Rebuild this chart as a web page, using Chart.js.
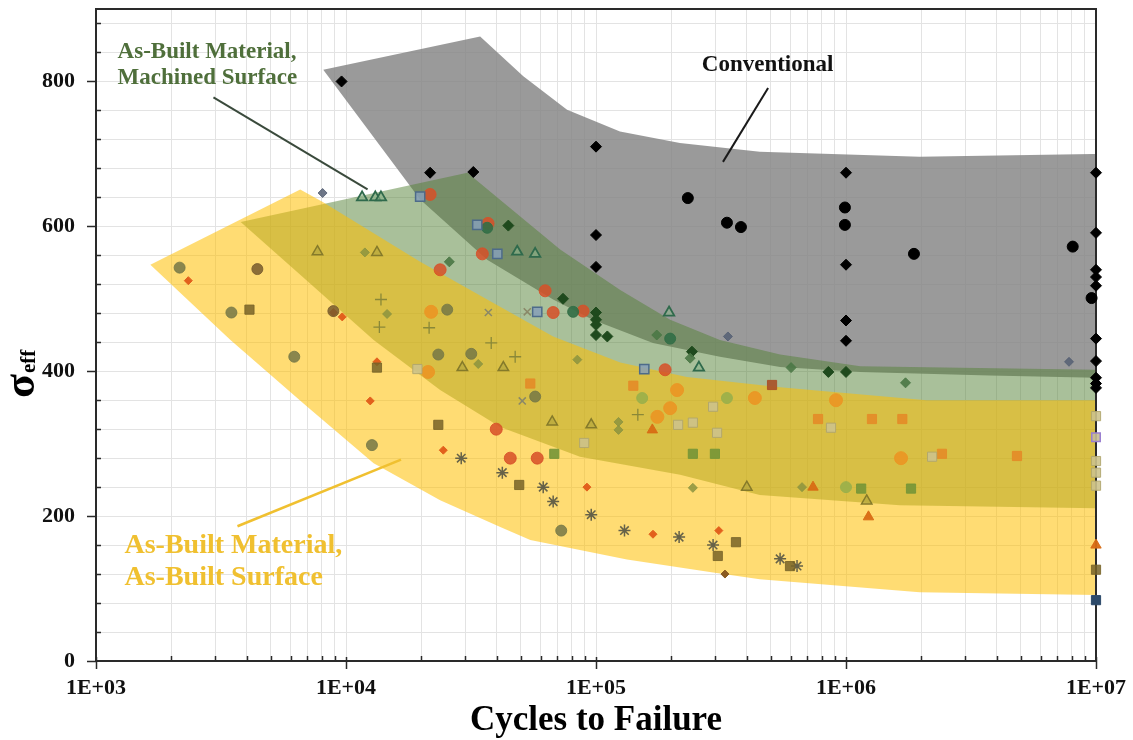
<!DOCTYPE html>
<html>
<head>
<meta charset="utf-8">
<script src="https://cdn.jsdelivr.net/npm/chart.js@4.4.1/dist/chart.umd.min.js"></script>
<style>
  html, body { margin: 0; padding: 0; background: #fff; }
  #wrap { width: 1133px; height: 740px; }
</style>
</head>
<body>
<div id="wrap"><canvas id="sn" width="1133" height="740"></canvas></div>
<script>
// ---- axes ----
const xTickValues = [];
for (let e = 3; e < 7; e++) for (let m = 1; m < 10; m++) xTickValues.push(m * Math.pow(10, e));
xTickValues.push(1e7);
const yTickValues = [];
for (let v = 0; v <= 880; v += 40) yTickValues.push(v);

// ---- scatter bands (polygon outlines, [cycles, stress]) ----
const grayBand = [[8110,816],[34400,862],[51200,807],[76600,761],[124700,731],[216600,715],[452000,703],[1970000,696],[9700000,700],[10000000,700],
  [10000000,391],[3760000,394],[1140000,399],[545000,406],[313000,420],[169000,439],[97000,471],[67400,499],[36700,554],[19800,637]];
const greenBand = [[3790,606],[30600,674],[42600,633],[71900,568],[125000,512],[198000,471],[313000,443],[545000,423],[1140000,407],[10000000,402],
  [10000000,211],[1640000,215],[452000,229],[217000,257],[86300,282],[41400,323],[23800,374],[12900,443],[6560,533]];
const yellowBand = [[1650,547],[6560,651],[8040,634],[19800,551],[36700,499],[67400,448],[125000,412],[231000,392],[545000,378],[2100000,360],[10000000,360],
  [10000000,91],[1970000,95],[452000,113],[294000,122],[133000,140],[54600,167],[41400,185],[23800,222],[12900,273],[7000,351],[3450,443]];

// ---- data points ----
const convDiamonds = [[9600,800],[21700,674],[32300,675],[100000,710],[100000,588],[100000,544],[1000000,674],[1000000,547],[1000000,470],[1000000,442],
  [10000000,674],[10000000,591],[10000000,540],[10000000,530],[10000000,518],[10000000,445],[10000000,414],[10000000,391],[10000000,383],[10000000,377]];
const convCircles = [[233000,639],[334000,605],[380000,599],[990000,626],[990000,602],[1870000,562],[8070000,572],[9600000,501]];
const machDiamonds = [[44600,601],[73800,500],[100000,481],[100000,471],[100000,464],[100000,450],[111000,448],[242000,427],[1000000,399],[850000,399]];
const midGreenDiamonds = [[175000,450],[603000,405],[1730000,384],[238000,418],[25900,551]];
const grayDiamonds = [[7800000,413],[337000,448],[8060,646]];
const greenCircles = [[36700,598],[81000,482],[198000,445]];
const blueSquares = [[19800,641],[33500,602],[40300,562],[58200,482],[156000,403]];
const purpleSquares = [[10000000,309]];
const navySquares = [[10000000,84]];
const machTriangles = [[11600,640],[13100,640],[13800,640],[48400,565],[57100,562],[258000,405],[196000,481]];
const redCircles = [[21700,644],[37000,604],[35100,562],[23800,540],[62600,511],[67400,481],[88800,483],[189000,402],[39900,320],[45400,280],[58200,280]];
const redSquares = [[506000,381]];
const orangeCircles = [[21900,482],[21300,399],[211000,374],[198000,349],[176000,337],[432000,363],[912000,360],[1660000,280]];
const orangeDiamonds = [[2340,525],[8900,481],[9660,475],[12500,359],[13300,413],[24500,291],[92000,240],[169000,175],[310000,180]];
const brownDiamonds = [[328000,120]];
const oliveCircles = [[2160,543],[3480,481],[6210,420],[12700,298],[72600,180],[25400,485],[23400,423],[31700,424],[57100,365]];
const brownCircles = [[4420,541],[8900,483]];
const lightGreenCircles = [[153000,363],[334000,363],[1000000,240]];
const oliveTriangles = [[7690,565],[13300,564],[29200,405],[42600,405],[66800,330],[95700,326],[1210000,221],[401000,240]];
const orangeTriangles = [[168000,319],[738000,240],[1230000,199],[10000000,160]];
const orangeSquares = [[54600,383],[141000,380],[773000,334],[1270000,334],[1680000,334],[2420000,286],[4830000,283]];
const tanSquares = [[19300,403],[294000,351],[213000,326],[244000,329],[305000,315],[89700,301],[871000,322],[2210000,282],
  [10000000,338],[10000000,276],[10000000,260],[10000000,242]];
const brownSquares = [[4110,485],[13300,405],[23400,326],[49300,243],[307000,145],[363000,164],[597000,131],[10000000,126]];
const greenSquares = [[68100,286],[244000,286],[299000,286],[1150000,238],[1820000,238]];
const plusMarks = [[13800,499],[13600,461],[21500,460],[38100,439],[47500,420],[147000,340]];
const starMarks = [[28900,280],[42200,260],[61500,240],[67400,220],[95700,202],[130000,180],[215000,171],[294000,160],[545000,141],[637000,131]];
const xMarks = [[37100,481],[53100,482],[50700,359]];
const oliveDiamonds = [[11900,564],[14600,479],[33800,410],[84200,416],[123000,330],[123000,319],[244000,239],[667000,240]];

// ---- annotations ----
const conventionalText = { x: 265000, y: 823, lines: ['Conventional'] };
const conventionalLine = [[488000, 791], [322000, 689]];
const machinedText = { x: 1220, y: 841, lines: ['As-Built Material,', 'Machined Surface'] };
const machinedLine = [[2950, 778], [12200, 651]];
const asBuiltText = { x: 1300, y: 159, lines: ['As-Built Material,', 'As-Built Surface'] };
const asBuiltLine = [[3680, 186], [16600, 278]];

const SERIF = '"Liberation Serif", "Times New Roman", serif';
const toXY = arr => arr.map(p => ({ x: p[0], y: p[1] }));

function band(data, color, order) {
  return { type: 'line', data: toXY(data), fill: 'shape', backgroundColor: color, borderColor: 'transparent',
    borderWidth: 0, pointRadius: 0, tension: 0, order: order };
}
function pts(data, style, radius, bg, border, bw) {
  return { type: 'scatter', data: toXY(data), pointStyle: style, pointRadius: radius, backgroundColor: bg,
    borderColor: border || bg, borderWidth: bw == null ? 1 : bw, clip: false, order: 0 };
}

const datasets = [
  band(grayBand, 'rgba(132,132,132,0.82)', 3),
  band(greenBand, 'rgba(84,130,53,0.5)', 2),
  band(yellowBand, 'rgba(255,192,0,0.55)', 1),
  pts(tanSquares, 'rect', 6.5, 'rgba(205,195,140,0.9)', 'rgba(175,165,110,0.9)'),
  pts(orangeSquares, 'rect', 6.5, 'rgba(228,140,40,0.9)'),
  pts(brownSquares, 'rect', 6.5, 'rgba(120,100,40,0.85)'),
  pts(greenSquares, 'rect', 6.5, 'rgba(118,150,55,0.9)'),
  pts(blueSquares, 'rect', 6.5, 'rgba(135,160,185,0.85)', '#4d6b8a', 1.5),
  pts(purpleSquares, 'rect', 6, 'rgba(200,190,150,0.9)', '#9a7fd0', 1.5),
  pts(navySquares, 'rect', 6.5, '#2d4a6a'),
  pts(redSquares, 'rect', 6.5, 'rgba(170,80,40,0.9)'),
  pts(oliveCircles, 'circle', 5.5, 'rgba(118,120,70,0.85)'),
  pts(brownCircles, 'circle', 5.5, 'rgba(120,92,45,0.85)'),
  pts(lightGreenCircles, 'circle', 5.5, 'rgba(150,175,75,0.85)'),
  pts(greenCircles, 'circle', 5.5, 'rgba(50,110,70,0.9)'),
  pts(redCircles, 'circle', 6, 'rgba(215,80,40,0.85)'),
  pts(orangeCircles, 'circle', 6.5, 'rgba(235,150,35,0.9)'),
  pts(oliveTriangles, 'triangle', 6, 'rgba(170,160,60,0.55)', '#857a2a', 1.5),
  pts(orangeTriangles, 'triangle', 6, 'rgba(216,108,20,0.95)'),
  pts(machTriangles, 'triangle', 6, 'rgba(140,180,140,0.6)', '#2f6a4c', 1.8),
  pts(plusMarks, 'cross', 6, 'transparent', '#8a8838', 1.3),
  pts(starMarks, 'star', 6, 'transparent', '#666248', 1.5),
  pts(xMarks, 'crossRot', 5, 'transparent', '#8a8868', 1.5),
  pts(oliveDiamonds, 'rectRot', 4.5, 'rgba(140,148,64,0.85)'),
  pts(orangeDiamonds, 'rectRot', 4, '#e2601c'),
  pts(brownDiamonds, 'rectRot', 4, '#8a5a20'),
  pts(midGreenDiamonds, 'rectRot', 5, 'rgba(75,120,70,0.9)'),
  pts(grayDiamonds, 'rectRot', 4.5, 'rgba(85,95,115,0.85)'),
  pts(machDiamonds, 'rectRot', 5.5, '#1f4a1d'),
  pts(convCircles, 'circle', 5.5, '#000'),
  pts(convDiamonds, 'rectRot', 5.5, '#000')
];
const YELLOW_INDEX = 2;

function drawFrame(chart) {
  const { ctx, chartArea: a } = chart;
  const xs = chart.scales.x, ys = chart.scales.y;
  ctx.save();
  ctx.strokeStyle = '#2a2a2a';
  ctx.lineWidth = 2;
  ctx.strokeRect(a.left, a.top, a.right - a.left, a.bottom - a.top);
  ctx.lineWidth = 1.5;
  ctx.beginPath();
  xTickValues.forEach(v => {
    const px = Math.round(xs.getPixelForValue(v)) + 0.5;
    const major = Math.abs(Math.log10(v) - Math.round(Math.log10(v))) < 1e-9;
    if (major) { ctx.moveTo(px, a.bottom - 4); ctx.lineTo(px, a.bottom + 8); }
    else { ctx.moveTo(px, a.bottom - 5); ctx.lineTo(px, a.bottom); }
  });
  yTickValues.forEach(v => {
    const py = Math.round(ys.getPixelForValue(v)) + 0.5;
    if (v % 200 === 0) { ctx.moveTo(a.left - 9, py); ctx.lineTo(a.left, py); }
    else { ctx.moveTo(a.left, py); ctx.lineTo(a.left + 5, py); }
  });
  ctx.stroke();
  ctx.restore();
}

function drawNote(chart, note, line, color, size, lineColor, lineWidth) {
  const { ctx } = chart;
  const xs = chart.scales.x, ys = chart.scales.y;
  ctx.save();
  ctx.strokeStyle = lineColor;
  ctx.lineWidth = lineWidth;
  ctx.beginPath();
  ctx.moveTo(xs.getPixelForValue(line[0][0]), ys.getPixelForValue(line[0][1]));
  ctx.lineTo(xs.getPixelForValue(line[1][0]), ys.getPixelForValue(line[1][1]));
  ctx.stroke();
  ctx.fillStyle = color;
  ctx.font = 'bold ' + size + 'px ' + SERIF;
  ctx.textAlign = 'left';
  ctx.textBaseline = 'middle';
  const x0 = xs.getPixelForValue(note.x), y0 = ys.getPixelForValue(note.y);
  note.lines.forEach((t, i) => ctx.fillText(t, x0, y0 + i * 26 * size / 23));
  ctx.restore();
}

const decor = {
  id: 'decor',
  afterDatasetDraw(chart, args) {
    if (args.index === YELLOW_INDEX) drawFrame(chart);
  },
  afterDraw(chart) {
    const { ctx, chartArea: a } = chart;
    drawNote(chart, conventionalText, conventionalLine, '#111', 23, '#1a1a1a', 2);
    drawNote(chart, machinedText, machinedLine, '#4f6f3b', 23, '#3a4a3c', 2);
    drawNote(chart, asBuiltText, asBuiltLine, '#f0c030', 28, '#f0c030', 2.5);
    ctx.save();
    ctx.fillStyle = '#000';
    ctx.font = 'bold 35px ' + SERIF;
    ctx.textAlign = 'center';
    ctx.textBaseline = 'alphabetic';
    ctx.fillText('Cycles to Failure', (a.left + a.right) / 2, 730);
    ctx.translate(34, 398);
    ctx.rotate(-Math.PI / 2);
    ctx.textAlign = 'left';
    ctx.font = 'bold 44px ' + SERIF;
    ctx.fillText('σ', 0, 0);
    const w = ctx.measureText('σ').width;
    ctx.font = 'bold 21px ' + SERIF;
    ctx.fillText('eff', w + 1, 1);
    ctx.restore();
  }
};

new Chart(document.getElementById('sn'), {
  type: 'scatter',
  data: { datasets: datasets },
  options: {
    responsive: false,
    animation: false,
    layout: { padding: { left: 0, right: 37, top: 9, bottom: 0 } },
    plugins: { legend: { display: false }, tooltip: { enabled: false } },
    scales: {
      x: {
        type: 'logarithmic', min: 1000, max: 1e7,
        afterBuildTicks: s => { s.ticks = xTickValues.map(v => ({ value: v })); },
        afterFit: s => { s.height = 79; s.paddingLeft = 0; s.paddingRight = 0; },
        ticks: {
          autoSkip: false, maxRotation: 0, padding: 14, color: '#111',
          font: { family: SERIF, size: 22, weight: 'bold' },
          callback: v => {
            const e = Math.log10(v);
            return Math.abs(e - Math.round(e)) < 1e-9 ? '1E+' + String(Math.round(e)).padStart(2, '0') : '';
          }
        },
        grid: { color: '#e3e3e3', lineWidth: 1, drawTicks: false },
        border: { display: false }
      },
      y: {
        min: 0, max: 900,
        afterBuildTicks: s => { s.ticks = yTickValues.map(v => ({ value: v })); },
        afterFit: s => { s.width = 96; s.paddingTop = 0; s.paddingBottom = 0; },
        ticks: {
          autoSkip: false, padding: 21, color: '#111',
          font: { family: SERIF, size: 22, weight: 'bold' },
          callback: v => (v % 200 === 0 ? String(v) : '')
        },
        grid: { color: '#e3e3e3', lineWidth: 1, drawTicks: false },
        border: { display: false }
      }
    }
  },
  plugins: [decor]
});
</script>
</body>
</html>
